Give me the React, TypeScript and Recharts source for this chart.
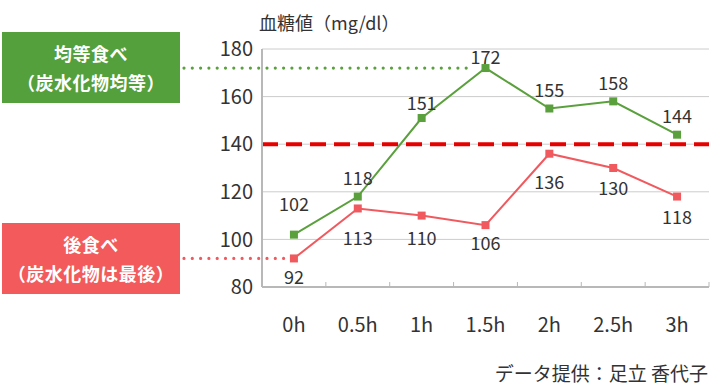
import React from "react";
import {
  LineChart,
  Line,
  XAxis,
  YAxis,
  CartesianGrid,
  ReferenceLine,
  LabelList,
} from "recharts";

const categories = ["0h", "0.5h", "1h", "1.5h", "2h", "2.5h", "3h"];
const evenMeal = [102, 118, 151, 172, 155, 158, 144];
const carbLast = [92, 113, 110, 106, 136, 130, 118];
const yTicks = [80, 100, 120, 140, 160, 180];
const threshold = 140;
const evenMarkerValue = 172;
const lastMarkerValue = 92;

const data = categories.map((c, i) => ({ t: c, even: evenMeal[i], last: carbLast[i] }));

const GREEN = "#5aa03c";
const GREEN_BOX = "#53a03d";
const RED = "#f05a5f";
const RED_BOX = "#f25a5c";
const TEXT = "#333333";
const AXIS = "#b8b8b8";
const FONT = "'Noto Sans CJK JP', 'Noto Sans', sans-serif";

const XTick = (props: any) => {
  const { x, y, payload, index } = props;
  const half = payload && payload.offset ? payload.offset : 32;
  return (
    <g>
      <line x1={x - half} x2={x - half} y1={y - 5} y2={y} stroke={AXIS} strokeWidth={1} />
      {index === categories.length - 1 && (
        <line x1={x + half} x2={x + half} y1={y - 5} y2={y} stroke={AXIS} strokeWidth={1} />
      )}
      <text
        x={x}
        y={y + 36}
        textAnchor="middle"
        dominantBaseline="central"
        fill={TEXT}
        fontSize={20}
        fontFamily={FONT}
      >
        {payload.value}
      </text>
    </g>
  );
};

const greenDy = [-32, -20, -16, -12, -20, -19, -20];
const redDy = [18, 29, 21, 17, 27, 19, 19];

const makeLabel = (dys: number[]) => (props: any) => {
  const { x, y, value, index } = props;
  return (
    <text
      x={x}
      y={y + dys[index]}
      textAnchor="middle"
      dominantBaseline="central"
      fill={TEXT}
      fontSize={18}
      fontFamily={FONT}
    >
      {value}
    </text>
  );
};

const squareDot = (color: string) => (p: any) => (
  <rect key={`d-${p.index}`} x={p.cx - 4} y={p.cy - 4} width={8} height={8} fill={color} />
);

const dottedShape = (color: string, startX: number, endX: number) => (p: any) => (
  <line
    x1={startX}
    x2={endX}
    y1={p.y1}
    y2={p.y1}
    stroke={color}
    strokeWidth={3.2}
    strokeDasharray="0 8.3"
    strokeLinecap="round"
  />
);

const boxStyle = (bg: string, top: number): React.CSSProperties => ({
  position: "absolute",
  left: 2,
  top,
  width: 178,
  height: 71,
  background: bg,
  color: "#fff",
  fontWeight: 700,
  fontSize: 18,
  lineHeight: "29px",
  display: "flex",
  flexDirection: "column",
  alignItems: "center",
  justifyContent: "center",
  fontFamily: FONT,
  letterSpacing: 0.5,
});

export default function App() {
  return (
    <div style={{ position: "absolute", left: 0, top: 0, width: 720, height: 386, background: "#fff", fontFamily: FONT, overflow: "hidden" }}>
      <LineChart
        width={720}
        height={386}
        data={data}
        margin={{ top: 49, right: 11, bottom: 69, left: 212 }}
      >
        <CartesianGrid horizontal vertical={false} stroke="#cccccc" />
        <XAxis
          dataKey="t"
          scale="band"
          height={30}
          axisLine={{ stroke: AXIS, strokeWidth: 2 }}
          tickLine={false}
          tickSize={0}
          tickMargin={0}
          tick={<XTick />}
          interval={0}
        />
        <YAxis
          width={50}
          domain={[80, 180]}
          ticks={yTicks}
          axisLine={{ stroke: AXIS, strokeWidth: 2 }}
          tickLine={false}
          tickMargin={3}
          tick={{ fill: TEXT, fontSize: 20, fontFamily: FONT }}
          interval={0}
        />
        <ReferenceLine
          y={threshold}
          stroke="#e60000"
          strokeWidth={4}
          strokeDasharray="16 8"
        />
        <ReferenceLine
          y={evenMarkerValue}
          ifOverflow="visible"
          shape={dottedShape(GREEN, 184, 472)}
        />
        <ReferenceLine
          y={lastMarkerValue}
          ifOverflow="visible"
          shape={dottedShape(RED, 184, 286)}
        />
        <Line
          type="linear"
          dataKey="even"
          stroke={GREEN}
          strokeWidth={2}
          dot={squareDot(GREEN)}
          isAnimationActive={false}
        >
          <LabelList dataKey="even" content={makeLabel(greenDy)} />
        </Line>
        <Line
          type="linear"
          dataKey="last"
          stroke={RED}
          strokeWidth={2}
          dot={squareDot(RED)}
          isAnimationActive={false}
        >
          <LabelList dataKey="last" content={makeLabel(redDy)} />
        </Line>
      </LineChart>
      <div style={{ position: "absolute", left: 259, top: 11, fontSize: 18, lineHeight: "22px", color: TEXT, fontFamily: FONT, whiteSpace: "nowrap" }}>
        血糖値（mg/dl）
      </div>
      <div style={boxStyle(GREEN_BOX, 32)}>
        <div>均等食べ</div>
        <div>（炭水化物均等）</div>
      </div>
      <div style={boxStyle(RED_BOX, 223)}>
        <div>後食べ</div>
        <div>（炭水化物は最後）</div>
      </div>
      <div style={{ position: "absolute", right: 12, top: 362, fontSize: 19, lineHeight: "21px", color: TEXT, fontFamily: FONT, whiteSpace: "nowrap" }}>
        データ提供：足立 香代子
      </div>
    </div>
  );
}
